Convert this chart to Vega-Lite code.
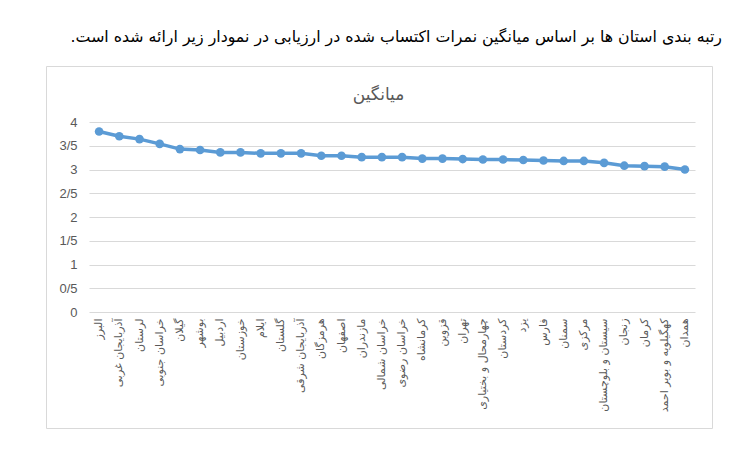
{
  "$schema": "https://vega.github.io/schema/vega-lite/v6.json",
  "width": 666,
  "height": 362,
  "autosize": {"type": "none"},
  "padding": {"left": 46, "top": 66, "right": 40, "bottom": 38},
  "background": "white",
  "title": {
    "text": "رتبه بندی استان ها بر اساس میانگین نمرات اکتساب شده در ارزیابی در نمودار زیر ارائه شده است.‏",
    "anchor": "end",
    "frame": "group",
    "orient": "top",
    "baseline": "bottom",
    "offset": 5,
    "dx": 10,
    "font": "DejaVu Sans",
    "fontSize": 15.8,
    "fontWeight": "normal",
    "color": "#000000"
  },
  "config": {
    "view": {"stroke": "#d9d9d9", "strokeWidth": 1}
  },
  "data": {
    "values": [
      {"province": "البرز", "mean": 3.80},
      {"province": "آذربایجان غربی", "mean": 3.70},
      {"province": "لرستان", "mean": 3.64},
      {"province": "خراسان جنوبی", "mean": 3.54},
      {"province": "گیلان", "mean": 3.43},
      {"province": "بوشهر", "mean": 3.41},
      {"province": "اردبیل", "mean": 3.36},
      {"province": "خوزستان", "mean": 3.36},
      {"province": "ایلام", "mean": 3.34},
      {"province": "گلستان", "mean": 3.34},
      {"province": "آذربایجان شرقی", "mean": 3.34},
      {"province": "هرمزگان", "mean": 3.29},
      {"province": "اصفهان", "mean": 3.29},
      {"province": "مازندران", "mean": 3.26},
      {"province": "خراسان شمالی", "mean": 3.26},
      {"province": "خراسان رضوی", "mean": 3.26},
      {"province": "کرمانشاه", "mean": 3.23},
      {"province": "قزوین", "mean": 3.23},
      {"province": "تهران", "mean": 3.22},
      {"province": "چهارمحال و بختیاری", "mean": 3.21},
      {"province": "کردستان", "mean": 3.21},
      {"province": "یزد", "mean": 3.20},
      {"province": "فارس", "mean": 3.19},
      {"province": "سمنان", "mean": 3.18},
      {"province": "مرکزی", "mean": 3.18},
      {"province": "سیستان و بلوچستان", "mean": 3.14},
      {"province": "زنجان", "mean": 3.08},
      {"province": "کرمان", "mean": 3.07},
      {"province": "کهگیلویه و بویر احمد", "mean": 3.06},
      {"province": "همدان", "mean": 3.00}
    ]
  },
  "layer": [
    {
      "mark": {"type": "line", "color": "#5B9BD5", "strokeWidth": 3.5, "clip": false},
      "encoding": {
        "x": {
          "field": "province",
          "type": "nominal",
          "sort": null,
          "scale": {"type": "band", "range": [43, 649], "paddingInner": 0, "paddingOuter": 0},
          "axis": {
            "orient": "bottom",
            "offset": -116,
            "title": null,
            "labelAngle": -90,
            "labelFont": "DejaVu Sans",
            "labelFontSize": 11,
            "labelColor": "#595959",
            "labelPadding": 6,
            "ticks": false,
            "domain": false,
            "grid": false,
            "labelLimit": 200
          }
        },
        "y": {
          "field": "mean",
          "type": "quantitative",
          "scale": {"domain": [0, 4], "range": [246, 56], "nice": false, "zero": true},
          "axis": {
            "title": null,
            "offset": -43,
            "values": [0, 0.5, 1, 1.5, 2, 2.5, 3, 3.5, 4],
            "labelExpr": "replace(format(datum.value, '.1~f'), '.', '/')",
            "labelFont": "Liberation Sans",
            "labelFontSize": 13,
            "labelColor": "#595959",
            "labelPadding": 12,
            "ticks": false,
            "domain": false,
            "grid": true,
            "gridColor": "#d9d9d9",
            "gridWidth": 1
          }
        }
      }
    },
    {
      "mark": {"type": "point", "filled": true, "opacity": 1, "color": "#5B9BD5", "size": 75, "clip": false},
      "encoding": {
        "x": {
          "field": "province",
          "type": "nominal",
          "sort": null,
          "axis": {
            "orient": "top",
            "offset": -37,
            "title": "میانگین",
            "titleX": 332,
            "titleFont": "DejaVu Sans",
            "titleFontSize": 17,
            "titleFontWeight": "normal",
            "titleColor": "#595959",
            "titlePadding": 0,
            "labels": false,
            "ticks": false,
            "domain": false,
            "grid": false
          }
        },
        "y": {"field": "mean", "type": "quantitative"}
      }
    }
  ],
  "resolve": {"axis": {"x": "independent"}}
}
